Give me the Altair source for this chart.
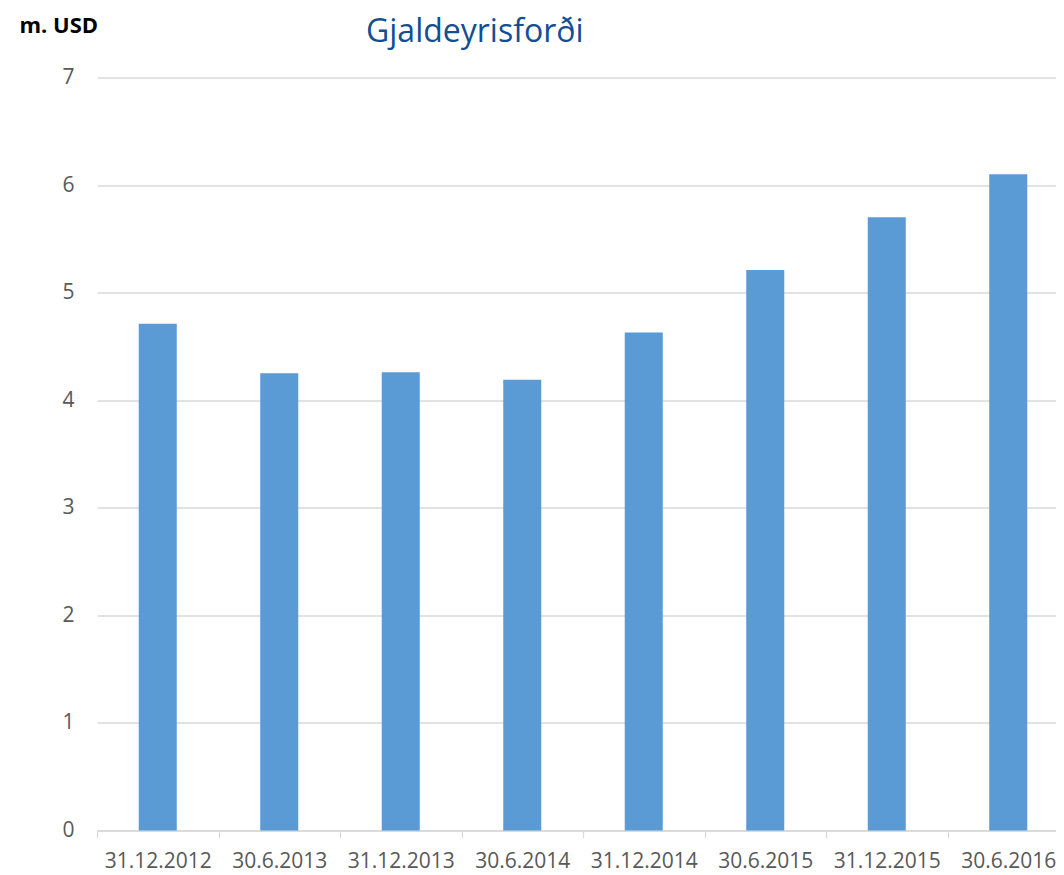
import altair as alt
import pandas as pd

dates = ["31.12.2012", "30.6.2013", "31.12.2013", "30.6.2014",
         "31.12.2014", "30.6.2015", "31.12.2015", "30.6.2016"]
values = [4.71, 4.25, 4.26, 4.19, 4.63, 5.21, 5.70, 6.10]
y_ticks = [0, 1, 2, 3, 4, 5, 6, 7]

df = pd.DataFrame({"date": dates, "value": values})

FONT = "Open Sans"
GRID = "#d9d9d9"
LABEL = "#595959"

chart = alt.Chart(df).mark_bar(
    color="#5b9bd5", width=alt.RelativeBandSize(0.313)
).encode(
    x=alt.X(
        "date:N", sort=dates, title=None,
        scale=alt.Scale(paddingInner=0, paddingOuter=0),
        axis=alt.Axis(
            labelAngle=0, tickBand="extent", grid=False,
            domainColor=GRID, domainWidth=1.3,
            tickColor=GRID, tickWidth=1.3, tickSize=7,
            labelPadding=13, labelFont=FONT, labelFontSize=21, labelColor=LABEL,
        ),
    ),
    y=alt.Y(
        "value:Q",
        scale=alt.Scale(domain=[0, 7], nice=False),
        axis=alt.Axis(
            values=y_ticks, format="d",
            title="m. USD", titleAngle=0, titleX=-78, titleY=-45,
            titleAlign="left", titleBaseline="alphabetic",
            titleFont=FONT, titleFontSize=22, titleFontWeight="bold", titleColor="#000000",
            domain=False, ticks=False,
            labelPadding=23, labelFont=FONT, labelFontSize=21, labelColor=LABEL,
            gridColor=GRID, gridWidth=1.3,
        ),
    ),
).properties(
    width=972,
    height=753,
    autosize=alt.AutoSizeParams(type="none"),
    padding={"left": 89, "top": 69.5, "right": -13, "bottom": 44},
    background="white",
    title=alt.TitleParams(
        "Gjaldeyrisforði", anchor="start", frame="group", dx=269, dy=38,
        font=FONT, fontSize=32, fontWeight="normal", color="#124e93",
    ),
).configure_view(stroke=None)

chart.save("out.html", embed_options={"renderer": "svg", "actions": False})
